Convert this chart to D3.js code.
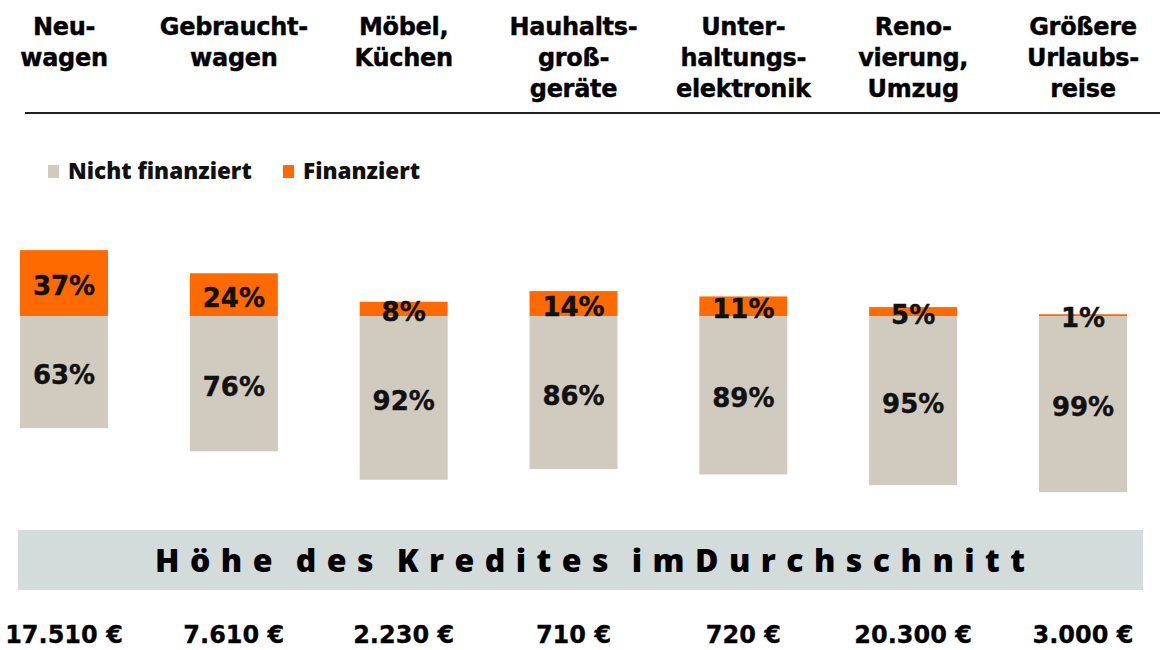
<!DOCTYPE html>
<html>
<head>
<meta charset="utf-8">
<script src="https://cdn.jsdelivr.net/npm/d3@7"></script>
<style>
  html, body { margin: 0; padding: 0; background: #ffffff; }
  svg { display: block; }
</style>
</head>
<body>
<svg id="chart" width="1160" height="650"></svg>
<script>
// ---- data ----
const categories = ["Neuwagen", "Gebrauchtwagen", "Möbel, Küchen", "Hauhaltsgroßgeräte", "Unterhaltungselektronik", "Renovierung, Umzug", "Größere Urlaubsreise"];
const headerLines = [
  ["Neu-", "wagen"],
  ["Gebraucht-", "wagen"],
  ["Möbel,", "Küchen"],
  ["Hauhalts-", "groß-", "geräte"],
  ["Unter-", "haltungs-", "elektronik"],
  ["Reno-", "vierung,", "Umzug"],
  ["Größere", "Urlaubs-", "reise"]
];
const nichtFinanziert = [63, 76, 92, 86, 89, 95, 99];
const finanziert = [37, 24, 8, 14, 11, 5, 1];
const kreditHoehe = ["17.510 €", "7.610 €", "2.230 €", "710 €", "720 €", "20.300 €", "3.000 €"];
const seriesNames = ["Nicht finanziert", "Finanziert"];
const bandTitle = "Höhe des Kredites imDurchschnitt";

// ---- styles ----
const colorNicht = "#d1cbbf";
const colorFin = "#ff6a00";
const bandColor = "#d3dcdb";
const headFont = "'DejaVu Sans', Verdana, sans-serif";
const legendFont = "'Open Sans', Lato, sans-serif";

const svg = d3.select("#chart");

// ---- scales ----
const x = d3.scalePoint().domain(categories).range([64, 1083]);
const barW = 88;
const baseY = 316;
const len = d3.scaleLinear().domain([0, 100]).range([0, 178]);

// ---- headers ----
const head = svg.append("g");
categories.forEach((c, i) => {
  const t = head.append("text")
    .attr("x", x(c))
    .attr("text-anchor", "middle")
    .attr("font-family", headFont)
    .attr("font-weight", "bold")
    .attr("font-size", 24)
    .attr("letter-spacing", -0.3)
    .attr("fill", "#000")
    .attr("stroke", "#000").attr("stroke-width", 0.4);
  headerLines[i].forEach((ln, j) => {
    t.append("tspan").attr("x", x(c)).attr("y", 35 + j * 31).text(ln);
  });
});

svg.append("line")
  .attr("x1", 25).attr("x2", 1160)
  .attr("y1", 113).attr("y2", 113)
  .attr("stroke", "#222").attr("stroke-width", 2);

// ---- legend ----
const legend = svg.append("g");
const legendItems = [
  { name: seriesNames[0], color: colorNicht, x: 48 },
  { name: seriesNames[1], color: colorFin, x: 283 }
];
legendItems.forEach(d => {
  legend.append("rect").attr("x", d.x).attr("y", 165).attr("width", 11).attr("height", 13).attr("fill", d.color);
  legend.append("text")
    .attr("x", d.x + 20).attr("y", 179)
    .attr("font-family", legendFont).attr("font-weight", 800)
    .attr("font-size", 22.5).attr("fill", "#111")
    .text(d.name);
});

// ---- bars ----
const bars = svg.append("g");
bars.selectAll("rect.nicht")
  .data(categories)
  .join("rect")
  .attr("class", "nicht")
  .attr("x", d => x(d) - barW / 2)
  .attr("y", baseY)
  .attr("width", barW)
  .attr("height", (d, i) => len(nichtFinanziert[i]))
  .attr("fill", colorNicht);

bars.selectAll("rect.fin")
  .data(categories)
  .join("rect")
  .attr("class", "fin")
  .attr("x", d => x(d) - barW / 2)
  .attr("y", (d, i) => baseY - len(finanziert[i]))
  .attr("width", barW)
  .attr("height", (d, i) => len(finanziert[i]))
  .attr("fill", colorFin);

const labelStyle = sel => sel
  .attr("text-anchor", "middle")
  .attr("dominant-baseline", "central")
  .attr("font-family", headFont)
  .attr("font-weight", "bold")
  .attr("font-size", 26)
  .attr("fill", "#111")
  .attr("stroke", "#111").attr("stroke-width", 0.4);

bars.selectAll("text.nichtLbl")
  .data(categories)
  .join("text")
  .attr("class", "nichtLbl")
  .attr("x", d => x(d))
  .attr("y", (d, i) => baseY + len(nichtFinanziert[i]) / 2 + 3)
  .call(labelStyle)
  .text((d, i) => nichtFinanziert[i] + "%");

bars.selectAll("text.finLbl")
  .data(categories)
  .join("text")
  .attr("class", "finLbl")
  .attr("x", d => x(d))
  .attr("y", (d, i) => baseY - len(finanziert[i]) / 2 + 3)
  .call(labelStyle)
  .text((d, i) => finanziert[i] + "%");

// ---- band ----
svg.append("rect")
  .attr("x", 18).attr("y", 530).attr("width", 1125).attr("height", 60)
  .attr("fill", bandColor);
svg.append("text")
  .attr("x", 155).attr("y", 572)
  .attr("font-family", legendFont).attr("font-weight", 800)
  .attr("font-size", 32).attr("fill", "#000")
  .attr("word-spacing", -6)
  .attr("textLength", 870).attr("lengthAdjust", "spacing")
  .text(bandTitle);

// ---- amounts ----
svg.append("g").selectAll("text")
  .data(categories)
  .join("text")
  .attr("x", d => x(d))
  .attr("y", 643)
  .attr("text-anchor", "middle")
  .attr("font-family", headFont)
  .attr("font-weight", "bold")
  .attr("font-size", 24)
  .attr("fill", "#000")
  .attr("stroke", "#000").attr("stroke-width", 0.3)
  .text((d, i) => kreditHoehe[i]);
</script>
</body>
</html>
